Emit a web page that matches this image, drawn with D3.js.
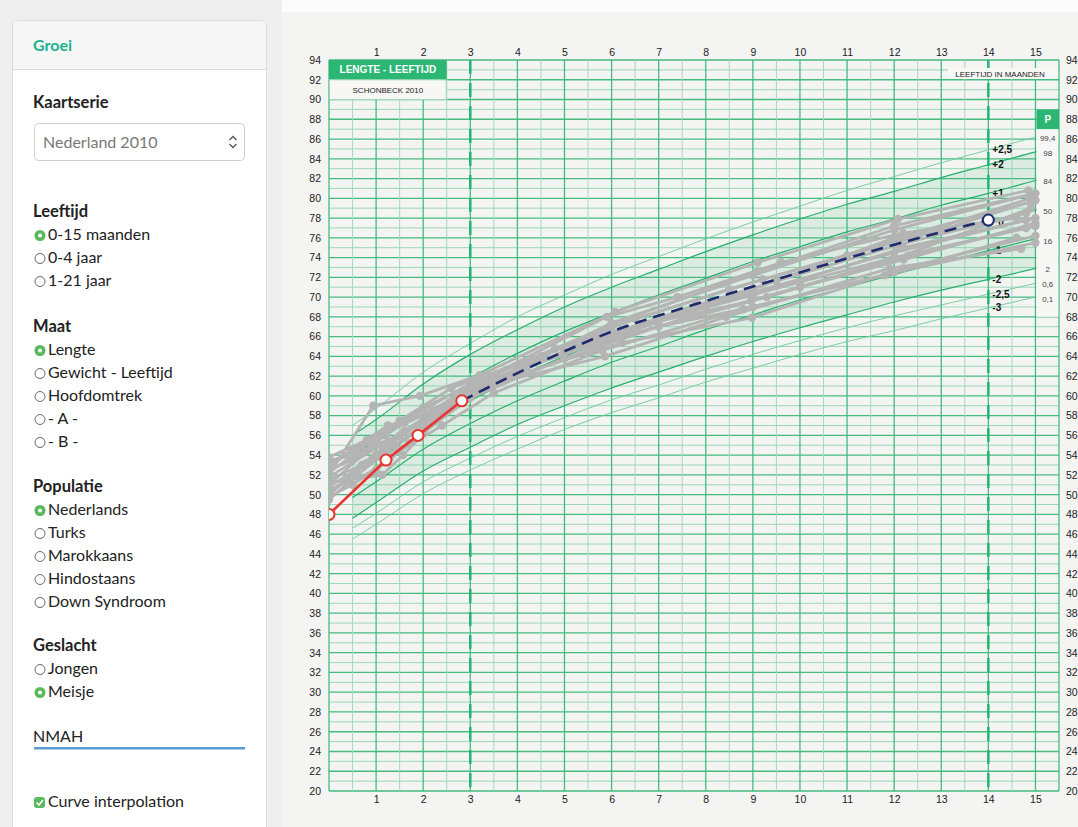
<!DOCTYPE html>
<html>
<head>
<meta charset="utf-8">
<script src="https://cdn.jsdelivr.net/npm/d3@7"></script>
<style>
  html, body { margin: 0; padding: 0; background: #efefef; }
  svg { display: block; }
</style>
</head>
<body>
<svg id="page" width="1078" height="827"></svg>
<script>
// referentie lijnen (Schonbeck 2010, meisjes, lengte 0-15 mnd)
var refAges  = [0.5, 1, 2, 3, 4, 5, 6, 7, 8, 9, 10, 11, 12, 13, 14, 15, 15.5];
var sdPlus25 = [57.0, 58.7, 62.4, 65.3, 68.0, 70.2, 72.3, 74.1, 75.9, 77.6, 79.2, 80.8, 82.2, 83.6, 84.9, 86.2, 86.8];
var sdPlus2  = [56.0, 57.6, 61.2, 64.2, 66.7, 69.0, 71.0, 72.8, 74.6, 76.3, 77.9, 79.4, 80.7, 82.1, 83.4, 84.7, 85.3];
var sdPlus1  = [53.9, 55.5, 59.0, 61.8, 64.3, 66.5, 68.4, 70.2, 71.9, 73.6, 75.1, 76.6, 77.9, 79.3, 80.5, 81.8, 82.4];
var sdZero   = [51.8, 53.4, 56.8, 59.5, 61.9, 64.0, 65.9, 67.6, 69.3, 70.9, 72.4, 73.8, 75.1, 76.4, 77.6, 78.8, 79.4];
var sdMin1   = [49.7, 51.3, 54.6, 57.2, 59.5, 61.5, 63.4, 65.0, 66.7, 68.2, 69.7, 71.0, 72.3, 73.5, 74.7, 75.9, 76.4];
var sdMin2   = [47.6, 49.2, 52.4, 54.8, 57.1, 59.0, 60.8, 62.4, 64.0, 65.5, 66.9, 68.2, 69.5, 70.7, 71.8, 72.9, 73.5];
var sdMin25  = [46.6, 48.1, 51.3, 53.7, 55.9, 57.8, 59.6, 61.1, 62.7, 64.2, 65.6, 66.9, 68.1, 69.2, 70.3, 71.4, 72.0];
var sdMin3   = [45.5, 47.0, 50.1, 52.5, 54.6, 56.6, 58.3, 59.8, 61.4, 62.8, 64.2, 65.5, 66.6, 67.8, 68.9, 70.0, 70.5];
var sdLabels = ['+2,5', '+2', '+1', '0', '-1', '-2', '-2,5', '-3'];
var pLabels  = ['99,4', '98', '84', '50', '16', '2', '0,6', '0,1'];

var xTicks = d3.range(1, 16);
var yTicks = d3.range(20, 95, 2);

// metingen van het kind
var measuredAges   = [0, 1.21, 1.89, 2.82];
var measuredLength = [48.0, 53.5, 56.0, 59.5];
// voorspelling
var predictAges   = [2.82, 4, 6, 8, 10, 12, 14];
var predictLength = [59.5, 62.3, 66.5, 69.6, 72.5, 75.3, 77.8];

// andere kinderen (grijs) [leeftijd, lengte]
var greyChildren = [
  [[0,52.0],[0.94,59.0],[1.93,60.0],[3.2,62.1],[6.07,68.5],[9.1,73.5],[12.08,77.9],[14.85,80.8]],
  [[0,51.2],[1.13,52.0],[1.57,54.0],[2.9,60.5],[5.86,64.0],[8.43,68.0],[11.9,72.9],[14.7,74.9]],
  [[0,53.0],[1.25,57.0],[2.1,58.2],[3.0,61.0],[5.9,68.0],[7.4,70.0],[9.6,73.5],[12.19,76.5],[14.6,78.0]],
  [[0,50.0],[1.0,54.0],[2.0,57.5],[3.1,60.8],[6.22,65.4],[8.98,67.9],[12.19,72.9],[15.0,76.2]],
  [[0,52.5],[0.5,53.5],[1.5,56.0],[2.5,59.0],[4.0,62.5],[6.0,66.5],[8.96,69.6],[11.9,73.7],[14.9,79.0]],
  [[0,49.5],[0.6,52.0],[1.4,55.0],[2.2,57.8],[3.3,61.5],[5.5,65.0],[7.0,67.5],[9.0,70.5],[12.0,74.5],[15.0,78.0]],
  [[0,53.8],[0.8,55.5],[1.8,58.0],[3.2,61.8],[4.5,64.0],[6.5,67.8],[9.2,71.8],[12.1,75.8],[14.9,80.0]],
  [[0,51.5],[0.7,53.0],[1.6,56.5],[2.7,59.8],[4.2,63.0],[6.0,66.0],[8.0,69.0],[10.0,71.5],[12.0,74.0],[14.8,77.0]],
  [[0,50.5],[1.0,52.5],[2.0,56.2],[3.0,60.2],[5.0,64.5],[7.0,67.0],[9.0,69.0],[12.0,72.5],[15.0,75.5]],
  [[0,52.8],[0.5,54.5],[1.2,56.0],[2.0,58.8],[3.4,62.0],[6.0,67.0],[8.5,70.8],[11.0,74.2],[13.0,76.8],[15.0,79.8]],
  [[0,51.0],[0.9,54.8],[1.9,57.0],[3.1,61.2],[4.8,64.8],[6.3,66.8],[9.0,70.2],[12.2,75.0],[14.8,77.8]],
  [[0,53.5],[0.6,54.0],[1.6,57.3],[2.8,60.0],[4.0,62.8],[6.1,66.2],[9.0,70.8],[12.0,76.0],[14.9,79.6]],
  [[0,50.2],[0.8,53.2],[1.7,55.2],[3.0,59.8],[5.0,63.8],[7.5,67.8],[10.0,71.0],[12.2,73.8],[15.0,77.5]],
  [[0,52.2],[1.0,55.8],[2.2,58.5],[3.3,61.0],[6.0,67.4],[9.0,72.2],[12.0,76.8],[15.0,80.5]],
  [[0,49.8],[0.5,51.0],[1.3,53.8],[2.4,57.0],[3.5,60.3],[5.8,64.6],[8.8,68.8],[11.8,72.2],[14.6,76.0]],
  [[0,51.8],[1.1,55.0],[2.3,58.0],[3.2,60.6],[5.2,65.0],[7.8,69.2],[9.5,71.6],[12.1,75.3],[14.8,78.5]],
  [[0,53.2],[0.7,55.0],[1.5,57.5],[2.6,60.8],[4.3,63.8],[6.0,67.2],[9.1,72.6],[12.0,77.2],[14.9,80.4]],
  [[0,50.8],[0.9,53.5],[2.0,56.8],[3.0,60.0],[6.2,66.0],[9.3,70.0],[12.3,74.2],[15.0,77.2]]
];

// zijpaneel
var panelGroups = [
  { title: 'Leeftijd',  top: 217, options: ['0-15 maanden', '0-4 jaar', '1-21 jaar'], checked: 0 },
  { title: 'Maat',      top: 332, options: ['Lengte', 'Gewicht - Leeftijd', 'Hoofdomtrek', '- A -', '- B -'], checked: 0 },
  { title: 'Populatie', top: 492, options: ['Nederlands', 'Turks', 'Marokkaans', 'Hindostaans', 'Down Syndroom'], checked: 0 },
  { title: 'Geslacht',  top: 651, options: ['Jongen', 'Meisje'], checked: 1 }
];

var svg = d3.select('#page');
var uiFont = 'Lato, "Open Sans", sans-serif';
var chartFont = '"Liberation Sans", Arial, sans-serif';

// achtergronden
svg.append('rect').attr('x', 282).attr('y', 0).attr('width', 796).attr('height', 12).attr('fill', '#fcfcfc');
svg.append('rect').attr('x', 282).attr('y', 12).attr('width', 796).attr('height', 815).attr('fill', '#f4f4f3');

// ---------- paneel ----------
var panel = svg.append('g');
panel.append('rect')
  .attr('x', 12.5).attr('y', 20.5).attr('width', 254).attr('height', 830).attr('rx', 4)
  .attr('fill', '#fff').attr('stroke', '#dcdcdc');
panel.append('path')
  .attr('d', 'M13,69 V25 Q13,21 17,21 H262 Q266,21 266,25 V69 Z')
  .attr('fill', '#f6f6f6');
panel.append('line').attr('x1', 13).attr('x2', 266).attr('y1', 69.5).attr('y2', 69.5).attr('stroke', '#dcdcdc');
panel.append('text').attr('x', 33).attr('y', 51).text('Groei')
  .style('font', 'bold 16px ' + uiFont).attr('fill', '#1bb28f');

panel.append('text').attr('x', 33).attr('y', 108).text('Kaartserie')
  .style('font', 'bold 16.5px ' + uiFont).attr('fill', '#222');
panel.append('rect').attr('x', 34.5).attr('y', 123.5).attr('width', 210).attr('height', 37).attr('rx', 4)
  .attr('fill', '#fff').attr('stroke', '#cfcfcf');
panel.append('text').attr('x', 43).attr('y', 148).text('Nederland 2010')
  .style('font', '16px ' + uiFont).attr('fill', '#777');
panel.append('path').attr('d', 'M229.5,140 l3.5,-3.5 l3.5,3.5 M229.5,144 l3.5,3.5 l3.5,-3.5')
  .attr('fill', 'none').attr('stroke', '#555').attr('stroke-width', 1.3);

panelGroups.forEach(function(grp) {
  panel.append('text').attr('x', 33).attr('y', grp.top).text(grp.title)
    .style('font', 'bold 16.5px ' + uiFont).attr('fill', '#222');
  var item = panel.selectAll(null)
    .data(grp.options)
    .enter().append('g')
    .attr('transform', function(d, i) { return 'translate(0,' + (grp.top + 23 * (i + 1)) + ')'; });
  item.append('circle')
    .attr('cx', 40).attr('cy', -4.5)
    .attr('r', function(d, i) { return i === grp.checked ? 5.5 : 5; })
    .attr('fill', function(d, i) { return i === grp.checked ? '#5cb85c' : 'none'; })
    .attr('stroke', function(d, i) { return i === grp.checked ? 'none' : '#666'; });
  item.filter(function(d, i) { return i === grp.checked; })
    .append('circle').attr('cx', 40).attr('cy', -4.5).attr('r', 2).attr('fill', '#fff');
  item.append('text')
    .attr('x', 48).attr('y', 0)
    .style('font', '16px ' + uiFont).attr('fill', '#222')
    .text(function(d) { return d; });
});

panel.append('text').attr('x', 33).attr('y', 742).text('NMAH')
  .style('font', '16px ' + uiFont).attr('fill', '#222');
panel.append('rect').attr('x', 34).attr('y', 747).attr('width', 211).attr('height', 2.5).attr('fill', '#5b9bd5');

panel.append('rect').attr('x', 34).attr('y', 797).attr('width', 11).attr('height', 11).attr('rx', 3).attr('fill', '#5cb85c');
panel.append('path').attr('d', 'M36.5,802.5 l2.5,2.5 l4,-5').attr('fill', 'none').attr('stroke', '#fff').attr('stroke-width', 1.6);
panel.append('text').attr('x', 48).attr('y', 807).text('Curve interpolation')
  .style('font', '16px ' + uiFont).attr('fill', '#222');

// ---------- grafiek ----------
var x = d3.scaleLinear().domain([0, 15.5]).range([329, 1059]);
var y = d3.scaleLinear().domain([20, 94]).range([791, 60]);

var chart = svg.append('g');

// raster
var grid = chart.append('g');
grid.selectAll('.hl')
  .data(d3.range(20, 95))
  .enter().append('line')
  .attr('x1', x(0)).attr('x2', x(15.5))
  .attr('y1', function(d) { return y(d); }).attr('y2', function(d) { return y(d); })
  .attr('stroke', function(d) { return d % 2 === 0 ? '#45bb80' : '#9bd7b6'; })
  .attr('stroke-width', function(d) { return d % 2 === 0 ? 1.3 : 1; });
grid.selectAll('.vl')
  .data(d3.range(0, 31).map(function(i) { return i / 2; }))
  .enter().append('line')
  .attr('y1', y(94)).attr('y2', y(20))
  .attr('x1', function(d) { return x(d); }).attr('x2', function(d) { return x(d); })
  .attr('stroke', function(d) { return d % 1 === 0 ? '#45bb80' : '#a3dabd'; })
  .attr('stroke-width', function(d) { return d % 1 === 0 ? 1.3 : 1; });
grid.append('line').attr('x1', x(15.5)).attr('x2', x(15.5)).attr('y1', y(94)).attr('y2', y(20))
  .attr('stroke', '#45bb80').attr('stroke-width', 1.3);

var clip = svg.append('clipPath').attr('id', 'plotclip');
clip.append('rect').attr('x', x(0)).attr('y', y(94)).attr('width', x(15.5) - x(0)).attr('height', y(20) - y(94));

var ref = chart.append('g').attr('clip-path', 'url(#plotclip)');

// band -2 .. +2
var band = d3.area()
  .x(function(d, i) { return x(refAges[i]); })
  .y0(function(d, i) { return y(sdMin2[i]); })
  .y1(function(d, i) { return y(sdPlus2[i]); })
  .curve(d3.curveMonotoneX);
ref.append('path').datum(refAges).attr('d', band)
  .attr('fill', '#2fb36f').attr('fill-opacity', 0.12);

var curves = [sdPlus25, sdPlus2, sdPlus1, sdZero, sdMin1, sdMin2, sdMin25, sdMin3];
var thin = [true, false, false, false, false, false, true, true];
var refLine = d3.line()
  .x(function(d, i) { return x(refAges[i]); })
  .y(function(d) { return y(d); })
  .curve(d3.curveMonotoneX);
ref.selectAll('.sd')
  .data(curves)
  .enter().append('path')
  .attr('d', refLine)
  .attr('fill', 'none')
  .attr('stroke', function(d, i) { return thin[i] ? '#6ccb9b' : '#26b06b'; })
  .attr('stroke-width', function(d, i) { return thin[i] ? 0.9 : 1.2; });

// gestippelde lijnen 3 en 14 mnd
chart.selectAll('.dash')
  .data([3, 14])
  .enter().append('line')
  .attr('x1', function(d) { return x(d); }).attr('x2', function(d) { return x(d); })
  .attr('y1', y(94)).attr('y2', y(20))
  .attr('stroke', '#22b573').attr('stroke-width', 2.5)
  .attr('stroke-dasharray', '14,9');

// as labels
function styleAxis(g) {
  g.select('.domain').remove();
  g.selectAll('text').style('font', '10.5px ' + chartFont).attr('fill', '#222');
}
chart.append('g').attr('transform', 'translate(' + x(0) + ',0)')
  .call(d3.axisLeft(y).tickValues(yTicks).tickSize(0).tickPadding(8)).call(styleAxis);
chart.append('g').attr('transform', 'translate(' + x(15.5) + ',0)')
  .call(d3.axisRight(y).tickValues(yTicks).tickSize(0).tickPadding(7)).call(styleAxis);
chart.append('g').attr('transform', 'translate(0,' + y(94) + ')')
  .call(d3.axisTop(x).tickValues(xTicks).tickSize(0).tickPadding(4)).call(styleAxis);
chart.append('g').attr('transform', 'translate(0,' + y(20) + ')')
  .call(d3.axisBottom(x).tickValues(xTicks).tickSize(0).tickPadding(5)).call(styleAxis);

// SD labels bij 14 mnd
var i14 = refAges.indexOf(14);
chart.selectAll('.sdlab')
  .data(sdLabels)
  .enter().append('text')
  .attr('x', function(d) { return d === '0' ? x(14) + 10 : x(14) + 4; })
  .attr('y', function(d, i) { return y(curves[i][i14]); })
  .attr('dy', '0.35em')
  .style('font', 'bold 10px ' + chartFont)
  .attr('fill', '#111')
  .text(function(d) { return d; });

// titel blok
chart.append('rect').attr('x', x(0)).attr('y', y(94)).attr('width', x(2.5) - x(0)).attr('height', y(92) - y(94))
  .attr('fill', '#2bb673');
chart.append('rect').attr('x', x(0) + 0.5).attr('y', y(92)).attr('width', x(2.5) - x(0) - 1).attr('height', y(90) - y(92))
  .attr('fill', '#f7f7f6').attr('stroke', '#9fd8b9');
chart.append('text').attr('x', (x(0) + x(2.5)) / 2).attr('y', (y(94) + y(92)) / 2).attr('dy', '0.36em')
  .attr('text-anchor', 'middle').style('font', 'bold 10px ' + chartFont).attr('fill', '#fff')
  .text('LENGTE - LEEFTIJD');
chart.append('text').attr('x', (x(0) + x(2.5)) / 2).attr('y', (y(92) + y(90)) / 2).attr('dy', '0.36em')
  .attr('text-anchor', 'middle').style('font', '8px ' + chartFont).attr('fill', '#222')
  .text('SCHONBECK 2010');

chart.append('rect').attr('x', 948).attr('y', 68).attr('width', x(15.5) - 948 - 1).attr('height', 11)
  .attr('fill', '#f7f7f6');
chart.append('text').attr('x', 1000).attr('y', 74).attr('dy', '0.35em')
  .attr('text-anchor', 'middle').style('font', '8px ' + chartFont).attr('fill', '#222')
  .text('LEEFTIJD IN MAANDEN');

// P kolom
var pLeft = x(15) + 1;
var pW = x(15.5) - pLeft;
chart.append('rect').attr('x', pLeft).attr('y', y(89)).attr('width', pW).attr('height', y(87) - y(89))
  .attr('fill', '#2bb673');
chart.append('rect').attr('x', pLeft).attr('y', y(87)).attr('width', pW - 0.7).attr('height', y(68) - y(87))
  .attr('fill', '#f7f7f6');
chart.append('text').attr('x', pLeft + pW / 2).attr('y', (y(89) + y(87)) / 2).attr('dy', '0.36em')
  .attr('text-anchor', 'middle').style('font', 'bold 10px ' + chartFont).attr('fill', '#fff').text('P');
var iEnd = refAges.length - 1;
chart.selectAll('.plab')
  .data(pLabels)
  .enter().append('text')
  .attr('x', pLeft + pW / 2)
  .attr('y', function(d, i) { return y(curves[i][iEnd]) + 7; })
  .attr('dy', '0.35em')
  .attr('text-anchor', 'middle')
  .style('font', '8px ' + chartFont)
  .attr('fill', '#444')
  .text(function(d) { return d; });

// grijze kinderen
var data = chart.append('g').attr('clip-path', 'url(#plotclip)');
var greyLine = d3.line()
  .x(function(d) { return x(d[0]); })
  .y(function(d) { return y(d[1]); });
var kid = data.selectAll('.kid')
  .data(greyChildren)
  .enter().append('g');
kid.append('path')
  .attr('d', greyLine)
  .attr('fill', 'none').attr('stroke', '#b4b4b4').attr('stroke-width', 2.8)
  .attr('stroke-linejoin', 'round');
kid.selectAll('circle')
  .data(function(d) { return d; })
  .enter().append('circle')
  .attr('cx', function(d) { return x(d[0]); })
  .attr('cy', function(d) { return y(d[1]); })
  .attr('r', 4.2)
  .attr('fill', '#b4b4b4');

// voorspelling (blauw)
var predLine = d3.line()
  .x(function(d, i) { return x(predictAges[i]); })
  .y(function(d) { return y(d); })
  .curve(d3.curveMonotoneX);
data.append('path').datum(predictLength).attr('d', predLine)
  .attr('fill', 'none').attr('stroke', '#1f2a6d').attr('stroke-width', 2.6)
  .attr('stroke-dasharray', '12,7');
var last = predictAges.length - 1;
data.append('circle')
  .attr('cx', x(predictAges[last])).attr('cy', y(predictLength[last])).attr('r', 5.5)
  .attr('fill', '#fff').attr('stroke', '#1f2a6d').attr('stroke-width', 2);

// metingen (rood)
var measLine = d3.line()
  .x(function(d, i) { return x(measuredAges[i]); })
  .y(function(d) { return y(d); });
data.append('path').datum(measuredLength).attr('d', measLine)
  .attr('fill', 'none').attr('stroke', '#e8352f').attr('stroke-width', 2.6);
data.selectAll('.meas')
  .data(measuredLength)
  .enter().append('circle')
  .attr('cx', function(d, i) { return x(measuredAges[i]); })
  .attr('cy', function(d) { return y(d); })
  .attr('r', 5.5)
  .attr('fill', '#fff').attr('stroke', '#e8352f').attr('stroke-width', 2);
</script>
</body>
</html>
